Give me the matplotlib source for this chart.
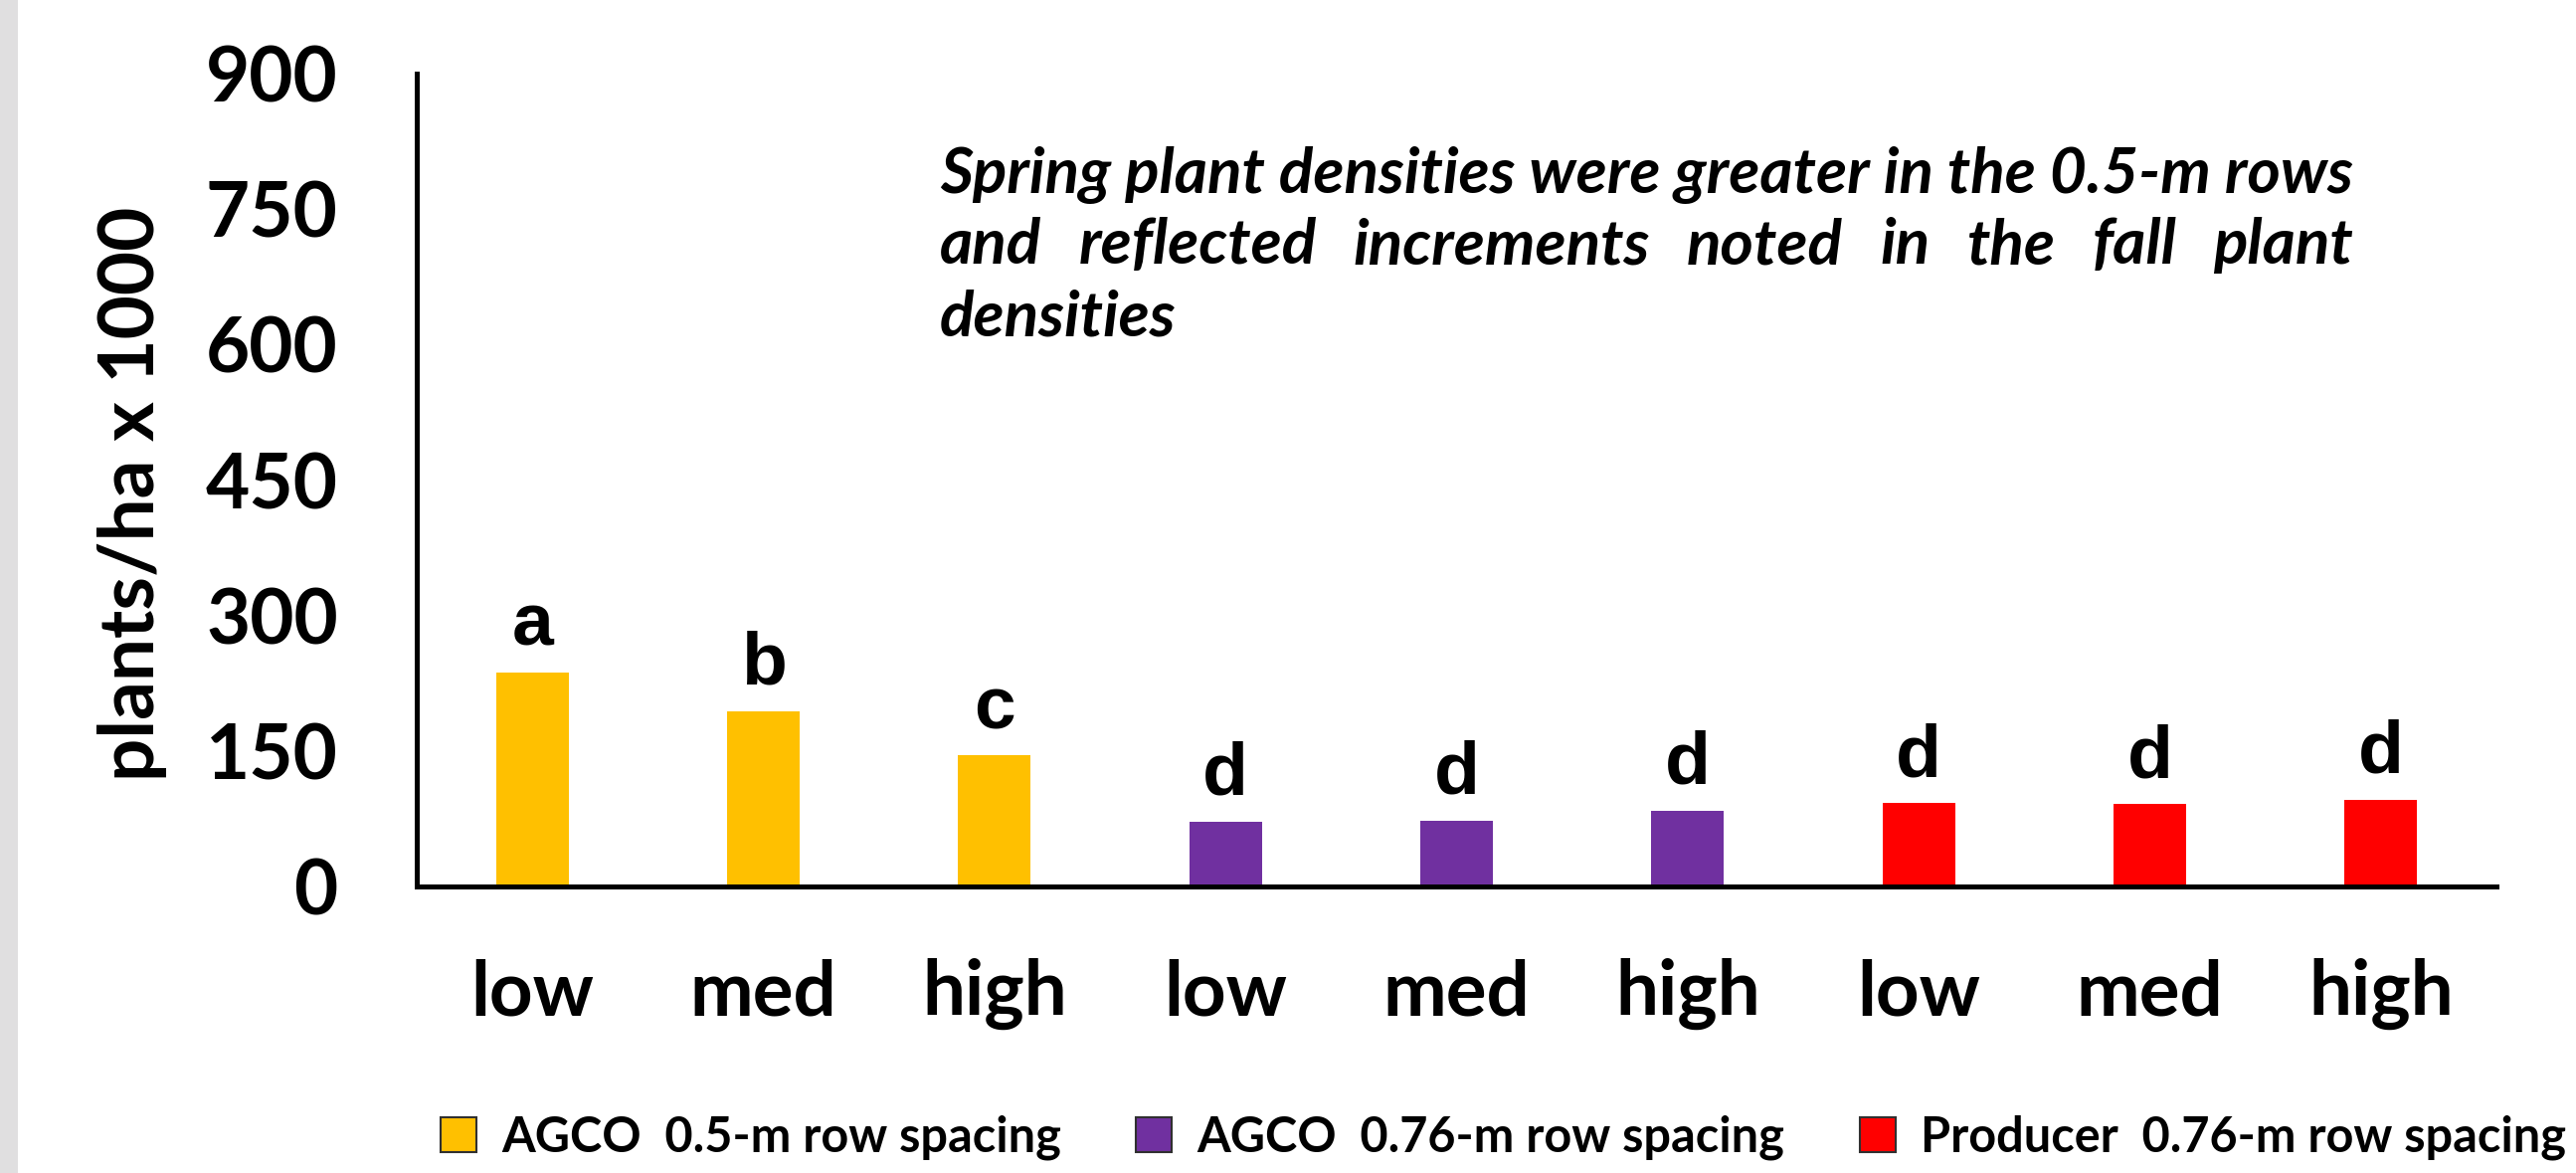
import matplotlib
matplotlib.use('Agg')
import matplotlib.pyplot as plt
from matplotlib.patches import Patch, Rectangle
import numpy as np

# ---- data ----
categories = ['low', 'med', 'high', 'low', 'med', 'high', 'low', 'med', 'high']
values = [237, 194, 145, 72, 73, 84, 92, 91, 96]
letters = ['a', 'b', 'c', 'd', 'd', 'd', 'd', 'd', 'd']
series_index = [0, 0, 0, 1, 1, 1, 2, 2, 2]
series_names = ['AGCO  0.5-m row spacing', 'AGCO  0.76-m row spacing',
                'Producer  0.76-m row spacing']
series_colors = ['#FFC000', '#7030A0', '#FF0000']
yticks = [0, 150, 300, 450, 600, 750, 900]
ylabel = 'plants/ha x 1000'
note_lines = ['Spring plant densities were greater in the 0.5-m rows',
              'and reflected increments noted in the fall plant',
              'densities']

W, H = 2590, 1179
fig = plt.figure(figsize=(W / 100, H / 100), dpi=100)
fig.patches.append(Rectangle((0, 0), 18 / W, 1, transform=fig.transFigure,
                             facecolor='#e0dfe0', edgecolor='none', zorder=0))

ax = fig.add_axes([419 / W, 1 - 891 / H, (2510 - 419) / W, (891 - 74) / H])
x = np.arange(len(values))
ax.bar(x, values, width=0.315, color=[series_colors[i] for i in series_index], zorder=2)
ax.set_xlim(-0.5, len(values) - 0.5)
ax.set_ylim(0, 900)
for s in ['top', 'right']:
    ax.spines[s].set_visible(False)
for s in ['left', 'bottom']:
    ax.spines[s].set_linewidth(3.6)
    ax.spines[s].set_zorder(3)
ax.set_yticks(yticks)
ax.set_yticklabels([str(v) for v in yticks])
ax.set_xticks(x)
ax.set_xticklabels(categories)
ax.tick_params(length=0)
ax.tick_params(axis='y', pad=57)
ax.tick_params(axis='x', pad=52)
for lab in ax.get_xticklabels() + ax.get_yticklabels():
    lab.set_fontfamily('Lato')
    lab.set_fontweight('bold')
    lab.set_fontsize(55)

for xi, v, l in zip(x, values, letters):
    ax.annotate(l, (xi, v), xytext=(0, 19.4), textcoords='offset points',
                ha='center', va='baseline', fontfamily='Liberation Sans',
                fontweight='bold', fontsize=54)

ax.set_ylabel(ylabel, fontfamily='Lato', fontweight='bold', fontsize=55)
ax.yaxis.set_label_coords(-0.1200, 0.4835)

# ---- note text (line 2 justified) ----
note_kw = dict(fontfamily='Lato', fontweight='bold', fontstyle='italic', fontsize=46,
               va='baseline', ha='left')
x0 = 945
baselines = [194, 265, 338]
renderer = fig.canvas.get_renderer()
t1 = fig.text(x0 / W, 1 - baselines[0] / H, note_lines[0], **note_kw)
target = t1.get_window_extent(renderer).width
words = note_lines[1].split()
wtexts = [fig.text(0, 1 - baselines[1] / H, w, **note_kw) for w in words]
widths = [t.get_window_extent(renderer).width for t in wtexts]
gap = (target - sum(widths)) / (len(words) - 1)
pos = x0
for t, wd in zip(wtexts, widths):
    t.set_x(pos / W)
    pos += wd + gap
fig.text(x0 / W, 1 - baselines[2] / H, note_lines[2], **note_kw)

# ---- legend ----
handles = [Patch(facecolor=c, edgecolor='#303030', linewidth=1.5) for c in series_colors]
fig.legend(handles, series_names, loc='center left',
           bbox_to_anchor=(443 / W, 1 - 1143 / H), ncol=3, frameon=False,
           prop={'family': 'Lato', 'weight': 'bold', 'size': 35},
           handlelength=0.74, handleheight=0.74, handletextpad=0.52,
           columnspacing=1.55, borderpad=0, borderaxespad=0)

fig.savefig('out.png', dpi=100)
